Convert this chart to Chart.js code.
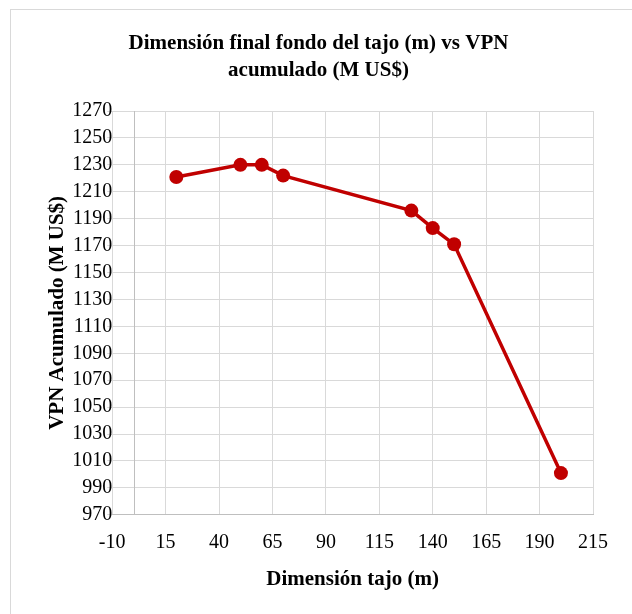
<!DOCTYPE html>
<html>
<head>
<meta charset="utf-8">
<script src="https://cdn.jsdelivr.net/npm/chart.js@4"></script>
<style>
    body { margin: 0; background: #fff; overflow: hidden; }
    .frame { position: absolute; left: 10px; top: 9px; width: 640px; height: 640px; border: 1px solid #d9d9d9; }
    #chart { position: absolute; left: 0; top: 0; }
</style>
</head>
<body>
<div class="frame"></div>
<canvas id="chart" width="632" height="614"></canvas>
<script>
const dimension = [20, 50, 60, 70, 130, 140, 150, 200];
const vpn = [1221, 1230, 1230, 1222, 1196, 1183, 1171, 1001];

const xMin = -10, xMax = 215, xStep = 25;
const yMin = 970, yMax = 1270, yStep = 20;

const serif = 'Liberation Serif';

// Excel crosses the value axis at x = 0
const zeroAxis = {
    id: 'zeroAxis',
    beforeDatasetsDraw(chart) {
        const { ctx, chartArea, scales } = chart;
        const x = Math.round(scales.x.getPixelForValue(0)) + 0.5;
        ctx.save();
        ctx.strokeStyle = '#bfbfbf';
        ctx.lineWidth = 1;
        ctx.beginPath();
        ctx.moveTo(x, chartArea.top);
        ctx.lineTo(x, chartArea.bottom);
        ctx.stroke();
        ctx.restore();
    }
};

new Chart(document.getElementById('chart'), {
    type: 'line',
    data: {
        datasets: [{
            data: dimension.map((d, i) => ({ x: d, y: vpn[i] })),
            borderColor: '#c00000',
            backgroundColor: '#c00000',
            borderWidth: 3.5,
            pointRadius: 7,
            pointBorderWidth: 0,
            pointBackgroundColor: '#c00000',
            tension: 0
        }]
    },
    options: {
        responsive: false,
        animation: false,
        devicePixelRatio: 1,
        layout: { padding: { left: 44, right: 39, top: 0, bottom: 18 } },
        plugins: {
            legend: { display: false },
            tooltip: { enabled: false },
            title: {
                display: true,
                text: ['Dimensión final fondo del tajo (m) vs VPN', 'acumulado (M US$)'],
                color: '#000',
                font: { family: serif, size: 21, weight: 'bold', lineHeight: 1.286 },
                padding: { top: 30, bottom: 27 }
            }
        },
        scales: {
            x: {
                type: 'linear',
                min: xMin,
                max: xMax,
                ticks: {
                    stepSize: xStep, color: '#000', padding: 15.5, autoSkip: false,
                    font: { family: serif, size: 20 },
                    callback: v => String(v)
                },
                grid: { color: '#d9d9d9', drawTicks: false },
                border: { color: '#bfbfbf' },
                title: {
                    display: true,
                    text: 'Dimensión tajo (m)',
                    color: '#000',
                    font: { family: serif, size: 21, weight: 'bold' },
                    padding: { top: -3, bottom: 4 }
                }
            },
            y: {
                min: yMin,
                max: yMax,
                ticks: {
                    stepSize: yStep, color: '#000', padding: -5, autoSkip: false,
                    font: { family: serif, size: 20 },
                    callback: v => String(v)
                },
                grid: { color: '#d9d9d9', tickLength: 5 },
                border: { display: false },
                title: {
                    display: true,
                    text: 'VPN Acumulado (M US$)',
                    color: '#000',
                    font: { family: serif, size: 21, weight: 'bold' },
                    padding: { top: 1, bottom: 7 }
                }
            }
        }
    },
    plugins: [zeroAxis]
});
</script>
</body>
</html>
